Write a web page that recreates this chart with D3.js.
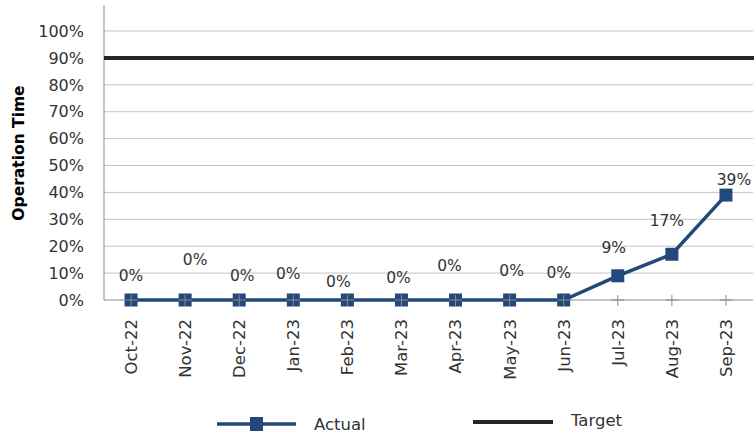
<!DOCTYPE html>
<html lang="en">
<head>
    <meta charset="UTF-8">
    <script src="https://d3js.org/d3.v7.min.js"></script>
    <title>Operation Time</title>
    <style>
        body { margin: 0; background: #fff; }
        text { font-family: 'DejaVu Sans', sans-serif; fill: #333; }
    </style>
</head>
<body>
<script>
    const width = 756, height = 439;

    // data
    const months = ["Oct-22","Nov-22","Dec-22","Jan-23","Feb-23","Mar-23",
                    "Apr-23","May-23","Jun-23","Jul-23","Aug-23","Sep-23"];
    const actual = [0, 0, 0, 0, 0, 0, 0, 0, 0, 0.09, 0.17, 0.39];
    const target = 0.9;
    const yTicks = [0, 0.1, 0.2, 0.3, 0.4, 0.5, 0.6, 0.7, 0.8, 0.9, 1.0];

    // where Excel happened to put each data label (px from the point)
    const labelDx = [0, 10, 3, -5, -9, -3, -6, 2, -5, -4, -5, 8];
    const labelDy = [-25, -41, -25, -27, -19, -23, -35, -30, -28, -28, -34, -16];

    const plotL = 104, plotR = 753, plotT = 31, plotB = 300;
    const blue = "#23497c";

    const x = d3.scaleBand().domain(months).range([plotL, plotR]);
    const y = d3.scaleLinear().domain([0, 1]).range([plotB, plotT]);
    const cx = d => x(d) + x.bandwidth() / 2;

    const svg = d3.select("body").append("svg")
            .attr("width", width).attr("height", height);

    // gridlines
    svg.append("g").selectAll("line")
            .data(yTicks.filter(t => t > 0 && t !== target))
            .join("line")
            .attr("x1", plotL).attr("x2", plotR)
            .attr("y1", d => y(d)).attr("y2", d => y(d))
            .attr("stroke", "#c4c4c4").attr("stroke-width", 1);

    // y tick labels
    svg.append("g").selectAll("text")
            .data(yTicks)
            .join("text")
            .attr("x", 84).attr("y", d => y(d))
            .attr("dy", "0.36em")
            .attr("text-anchor", "end")
            .style("font-size", "16px")
            .text(d3.format(".0%"));

    // axis lines
    svg.append("line")
            .attr("x1", plotL).attr("x2", plotL).attr("y1", 5).attr("y2", plotB)
            .attr("stroke", "#8c8c8c");
    svg.append("line")
            .attr("x1", plotL).attr("x2", plotR).attr("y1", plotB).attr("y2", plotB)
            .attr("stroke", "#8c8c8c");

    // target
    svg.append("line")
            .attr("x1", plotL).attr("x2", width - 2)
            .attr("y1", y(target)).attr("y2", y(target))
            .attr("stroke", "#262626").attr("stroke-width", 4);

    // actual series
    const line = d3.line().x((d, i) => cx(months[i])).y(d => y(d));
    svg.append("path")
            .datum(actual)
            .attr("d", line)
            .attr("fill", "none")
            .attr("stroke", blue).attr("stroke-width", 3.5);

    svg.append("g").selectAll("rect")
            .data(actual)
            .join("rect")
            .attr("x", (d, i) => cx(months[i]) - 6.5)
            .attr("y", d => y(d) - 6.5)
            .attr("width", 13).attr("height", 13)
            .attr("fill", blue);

    // ticks drawn over the markers
    const ticks = svg.append("g").attr("stroke", "#8c8c8c").attr("stroke-width", 1);
    months.forEach(m => {
        ticks.append("line")
                .attr("x1", cx(m)).attr("x2", cx(m))
                .attr("y1", plotB - 5).attr("y2", plotB + 6);
        ticks.append("line")
                .attr("x1", cx(m) - 6.5).attr("x2", cx(m) + 6.5)
                .attr("y1", plotB).attr("y2", plotB);
    });

    // data labels
    svg.append("g").selectAll("text")
            .data(actual)
            .join("text")
            .attr("x", (d, i) => cx(months[i]) + labelDx[i])
            .attr("y", (d, i) => y(d) + labelDy[i])
            .attr("dy", "0.36em")
            .attr("text-anchor", "middle")
            .style("font-size", "15.5px")
            .text(d3.format(".0%"));

    // month labels
    svg.append("g").selectAll("text")
            .data(months)
            .join("text")
            .attr("transform", d => `translate(${cx(d)},${plotB + 19}) rotate(-90)`)
            .attr("dy", "0.36em")
            .attr("text-anchor", "end")
            .style("font-size", "16.5px")
            .text(d => d);

    // y title
    svg.append("text")
            .attr("transform", `translate(18,153) rotate(-90)`)
            .attr("dy", "0.36em")
            .attr("text-anchor", "middle")
            .style("font-size", "15.5px")
            .style("font-weight", "bold")
            .style("fill", "#000")
            .text("Operation Time");

    // legend
    const lg = svg.append("g");
    lg.append("line")
            .attr("x1", 217).attr("x2", 296).attr("y1", 424).attr("y2", 424)
            .attr("stroke", blue).attr("stroke-width", 3.5);
    lg.append("rect")
            .attr("x", 250).attr("y", 417).attr("width", 13).attr("height", 14)
            .attr("fill", blue);
    lg.append("text")
            .attr("x", 314).attr("y", 424).attr("dy", "0.36em")
            .style("font-size", "16.5px")
            .text("Actual");
    lg.append("line")
            .attr("x1", 473).attr("x2", 553).attr("y1", 422).attr("y2", 422)
            .attr("stroke", "#262626").attr("stroke-width", 4);
    lg.append("text")
            .attr("x", 571).attr("y", 420).attr("dy", "0.36em")
            .style("font-size", "16.5px")
            .text("Target");
</script>
</body>
</html>
